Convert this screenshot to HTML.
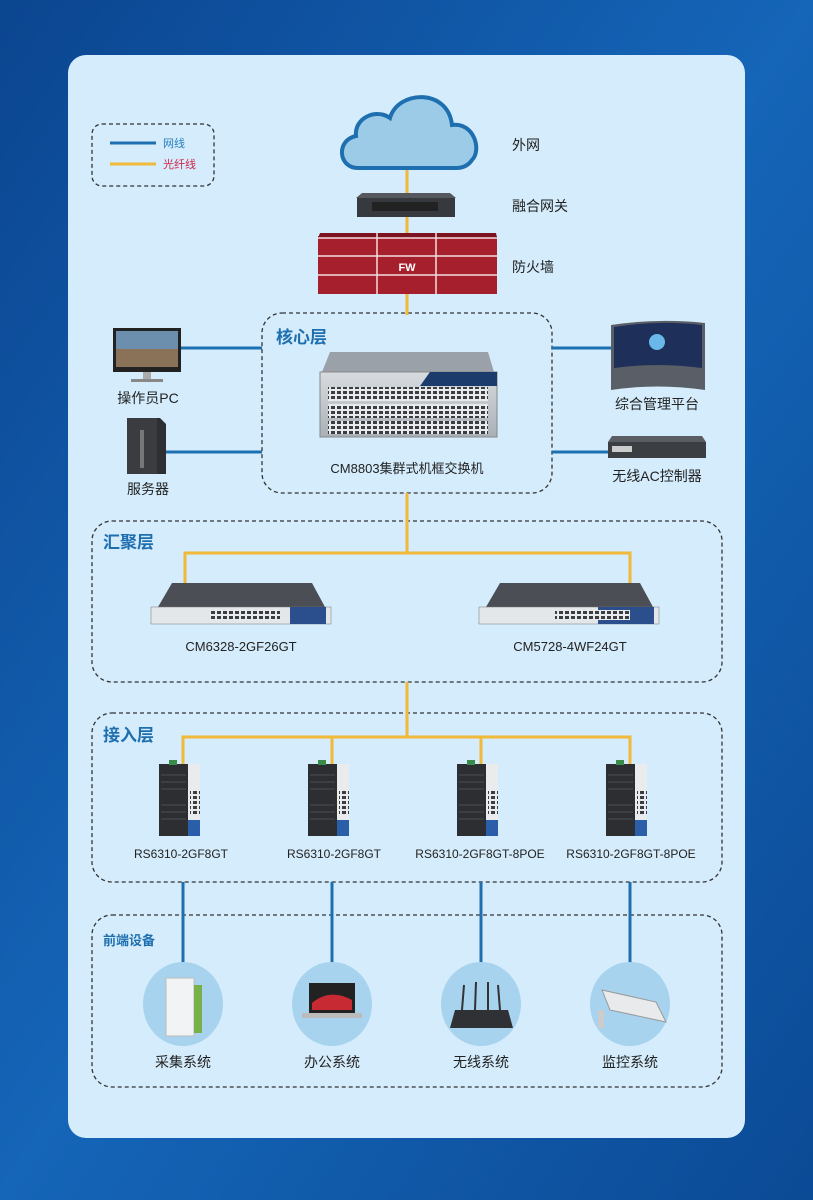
<!DOCTYPE html>
<html><head><meta charset="utf-8"><style>
html,body{margin:0;padding:0;width:813px;height:1200px;overflow:hidden;background:#0d4d9c}
svg{display:block}
text{font-family:"Liberation Sans","Noto Sans CJK SC",sans-serif}
</style></head><body>
<svg width="813" height="1200" viewBox="0 0 813 1200" xmlns="http://www.w3.org/2000/svg">
<defs>
<linearGradient id="bg" x1="0" y1="0" x2="1" y2="1"><stop offset="0" stop-color="#0b4590"/><stop offset="0.5" stop-color="#1565b8"/><stop offset="1" stop-color="#0b4a95"/></linearGradient>
<linearGradient id="dev" x1="0" y1="0" x2="0" y2="1"><stop offset="0" stop-color="#d8dce0"/><stop offset="1" stop-color="#a9b0b7"/></linearGradient>
<pattern id="ports" width="6" height="5" patternUnits="userSpaceOnUse"><rect width="6" height="5" fill="#e8eaec"/><rect x="1" y="1" width="4" height="3" fill="#3a3d42"/></pattern>
</defs>
<rect width="813" height="1200" fill="url(#bg)"/>
<rect x="68" y="55" width="677" height="1083" rx="18" fill="#d4ecfb"/>

<!-- legend -->
<rect x="92" y="124" width="122" height="62" rx="10" fill="none" stroke="#333" stroke-width="1.3" stroke-dasharray="4,3"/>
<line x1="110" y1="143" x2="156" y2="143" stroke="#1e6fb0" stroke-width="3"/>
<line x1="110" y1="164" x2="156" y2="164" stroke="#f0b93a" stroke-width="3"/>
<text x="163" y="147" font-size="11" fill="#2a7fc0">网线</text>
<text x="163" y="168" font-size="11" fill="#d2284a">光纤线</text>

<!-- dashed boxes -->
<g fill="none" stroke="#333" stroke-width="1.3" stroke-dasharray="4,3">
<rect x="262" y="313" width="290" height="180" rx="20"/>
<rect x="92" y="521" width="630" height="161" rx="20"/>
<rect x="92" y="713" width="630" height="169" rx="20"/>
<rect x="92" y="915" width="630" height="172" rx="20"/>
</g>

<!-- yellow lines -->
<g stroke="#f0b93a" stroke-width="3" fill="none">
<line x1="407" y1="165" x2="407" y2="315"/>
<line x1="407" y1="493" x2="407" y2="553"/>
<polyline points="185,585 185,553 630,553 630,585"/>
<line x1="407" y1="682" x2="407" y2="737"/>
<polyline points="183,765 183,737 630,737 630,765"/>
<line x1="332" y1="737" x2="332" y2="765"/>
<line x1="481" y1="737" x2="481" y2="765"/>
</g>
<!-- blue lines -->
<g stroke="#1e6fb0" stroke-width="3">
<line x1="180" y1="348" x2="262" y2="348"/>
<line x1="160" y1="452" x2="262" y2="452"/>
<line x1="552" y1="348" x2="612" y2="348"/>
<line x1="552" y1="452" x2="610" y2="452"/>
<line x1="183" y1="882" x2="183" y2="965"/>
<line x1="332" y1="882" x2="332" y2="965"/>
<line x1="481" y1="882" x2="481" y2="965"/>
<line x1="630" y1="882" x2="630" y2="965"/>
</g>

<!-- cloud -->
<path d="M358,168 C338,168 336,140 356,136 C354,118 376,108 390,118 C398,90 448,88 452,125 C474,122 482,150 472,160 C468,166 462,168 456,168 Z" fill="#9ccbe8" stroke="#1e6fb0" stroke-width="4"/>
<text x="512" y="150" font-size="14" fill="#222">外网</text>
<!-- gateway -->
<polygon points="362,193 450,193 456,198 356,198" fill="#55595e"/>
<rect x="357" y="198" width="98" height="19" fill="#36393d"/>
<rect x="372" y="202" width="66" height="9" fill="#222"/>
<text x="512" y="211" font-size="14" fill="#222">融合网关</text>
<!-- firewall -->
<g>
<rect x="318" y="236" width="179" height="58" fill="#a51f2c"/>
<polygon points="320,233 496,233 497,238 318,238" fill="#7b1420"/>
<g stroke="#f2dde0" stroke-width="1.5">
<line x1="318" y1="238" x2="497" y2="238"/><line x1="318" y1="256" x2="497" y2="256"/><line x1="318" y1="275" x2="497" y2="275"/>
<line x1="377" y1="233" x2="377" y2="294"/><line x1="436" y1="233" x2="436" y2="294"/>
</g>
<text x="407" y="271" font-size="11" font-weight="bold" fill="#fff" text-anchor="middle">FW</text>
</g>
<text x="512" y="272" font-size="14" fill="#222">防火墙</text>

<!-- core -->
<text x="276" y="343" font-size="17" font-weight="bold" fill="#1e6fb0">核心层</text>
<polygon points="330,352 488,352 494,372 322,372" fill="#9aa1a8"/>
<rect x="320" y="372" width="177" height="65" fill="url(#dev)" stroke="#888"/>
<polygon points="430,372 497,372 497,386 420,386" fill="#1b3b6d"/>
<rect x="328" y="387" width="160" height="14" fill="url(#ports)"/>
<rect x="328" y="404" width="160" height="14" fill="url(#ports)"/>
<rect x="328" y="421" width="160" height="13" fill="url(#ports)"/>
<text x="407" y="473" font-size="13" fill="#222" text-anchor="middle">CM8803集群式机框交换机</text>

<!-- PC -->
<rect x="113" y="328" width="68" height="44" fill="#222"/>
<rect x="116" y="331" width="62" height="36" fill="#6d8fae"/>
<rect x="116" y="349" width="62" height="18" fill="#8a7259"/>
<rect x="143" y="372" width="8" height="7" fill="#aaa"/><rect x="131" y="379" width="32" height="3" fill="#888"/>
<text x="148" y="403" font-size="14" fill="#222" text-anchor="middle">操作员PC</text>
<!-- server -->
<polygon points="127,418 160,418 166,424 166,474 132,474 127,468" fill="#2d2f33"/>
<rect x="127" y="418" width="30" height="56" fill="#3a3c40"/>
<rect x="140" y="430" width="4" height="38" fill="#777"/>
<text x="148" y="494" font-size="14" fill="#222" text-anchor="middle">服务器</text>
<!-- platform screen -->
<path d="M611,325 Q657,318 705,323 L705,390 Q657,383 611,390 Z" fill="#5a5e66"/>
<path d="M614,327 Q657,320 702,325 L702,368 Q657,362 614,368 Z" fill="#1e2f5a"/>
<circle cx="657" cy="342" r="8" fill="#6ab8ea"/>
<text x="657" y="409" font-size="14" fill="#222" text-anchor="middle">综合管理平台</text>
<!-- AC -->
<polygon points="612,436 702,436 706,442 608,442" fill="#5a5e64"/>
<rect x="608" y="442" width="98" height="16" fill="#3b3e43"/>
<rect x="612" y="446" width="20" height="6" fill="#ccc"/>
<text x="657" y="481" font-size="14" fill="#222" text-anchor="middle">无线AC控制器</text>

<!-- aggregation -->
<text x="103" y="548" font-size="17" font-weight="bold" fill="#1e6fb0">汇聚层</text>
<g>
<polygon points="172,583 312,583 325,607 158,607" fill="#4b4f55"/>
<rect x="151" y="607" width="180" height="17" fill="#e4e7ea" stroke="#777" stroke-width=".5"/>
<rect x="290" y="607" width="36" height="17" fill="#2a4f8c"/>
<rect x="210" y="610" width="70" height="10" fill="url(#ports)"/>
<text x="241" y="651" font-size="13" fill="#222" text-anchor="middle">CM6328-2GF26GT</text>
</g>
<g>
<polygon points="500,583 640,583 653,607 486,607" fill="#4b4f55"/>
<rect x="479" y="607" width="180" height="17" fill="#e4e7ea" stroke="#777" stroke-width=".5"/>
<rect x="598" y="607" width="56" height="17" fill="#2a4f8c"/>
<rect x="555" y="610" width="75" height="10" fill="url(#ports)"/>
<text x="570" y="651" font-size="13" fill="#222" text-anchor="middle">CM5728-4WF24GT</text>
</g>

<!-- access -->
<text x="103" y="741" font-size="17" font-weight="bold" fill="#1e6fb0">接入层</text>
<g id="rs">
<rect x="159" y="764" width="29" height="72" fill="#2c2e32"/>
<g stroke="#4a4d52" stroke-width="1"><line x1="161" y1="775" x2="186" y2="775"/><line x1="161" y1="782" x2="186" y2="782"/><line x1="161" y1="789" x2="186" y2="789"/><line x1="161" y1="805" x2="186" y2="805"/><line x1="161" y1="812" x2="186" y2="812"/><line x1="161" y1="819" x2="186" y2="819"/></g>
<rect x="188" y="764" width="12" height="56" fill="#e9ebed"/>
<rect x="190" y="790" width="10" height="26" fill="url(#ports)"/>
<rect x="188" y="820" width="12" height="16" fill="#2a5ea8"/>
<rect x="169" y="760" width="8" height="5" fill="#3a8a4a"/>
</g>
<use href="#rs" x="149"/><use href="#rs" x="298"/><use href="#rs" x="447"/>
<g font-size="12" fill="#222" text-anchor="middle">
<text x="181" y="858">RS6310-2GF8GT</text>
<text x="334" y="858">RS6310-2GF8GT</text>
<text x="480" y="858">RS6310-2GF8GT-8POE</text>
<text x="631" y="858">RS6310-2GF8GT-8POE</text>
</g>

<!-- front-end -->
<text x="103" y="945" font-size="13" font-weight="bold" fill="#1e6fb0">前端设备</text>
<g fill="#a7d3ef">
<ellipse cx="183" cy="1004" rx="40" ry="42"/><ellipse cx="332" cy="1004" rx="40" ry="42"/><ellipse cx="481" cy="1004" rx="40" ry="42"/><ellipse cx="630" cy="1004" rx="40" ry="42"/>
</g>
<rect x="166" y="978" width="28" height="58" fill="#f2f3f4" stroke="#bbb"/><rect x="194" y="985" width="8" height="48" fill="#7ab04a"/>
<rect x="309" y="983" width="46" height="30" fill="#222"/><path d="M312,1003 Q330,988 352,1000 L352,1010 L312,1010Z" fill="#c82a33"/><rect x="302" y="1013" width="60" height="5" fill="#bbb"/>
<g stroke="#333" stroke-width="2"><line x1="462" y1="1010" x2="464" y2="985"/><line x1="475" y1="1010" x2="476" y2="982"/><line x1="488" y1="1010" x2="488" y2="982"/><line x1="500" y1="1010" x2="498" y2="985"/></g>
<polygon points="455,1010 508,1010 513,1028 450,1028" fill="#2f3135"/>
<polygon points="602,990 656,1002 666,1022 610,1010" fill="#e8eaec" stroke="#999"/><rect x="598" y="1010" width="6" height="18" fill="#ccc"/>
<g font-size="14" fill="#222" text-anchor="middle">
<text x="183" y="1067">采集系统</text><text x="332" y="1067">办公系统</text><text x="481" y="1067">无线系统</text><text x="630" y="1067">监控系统</text>
</g>
</svg>
</body></html>
